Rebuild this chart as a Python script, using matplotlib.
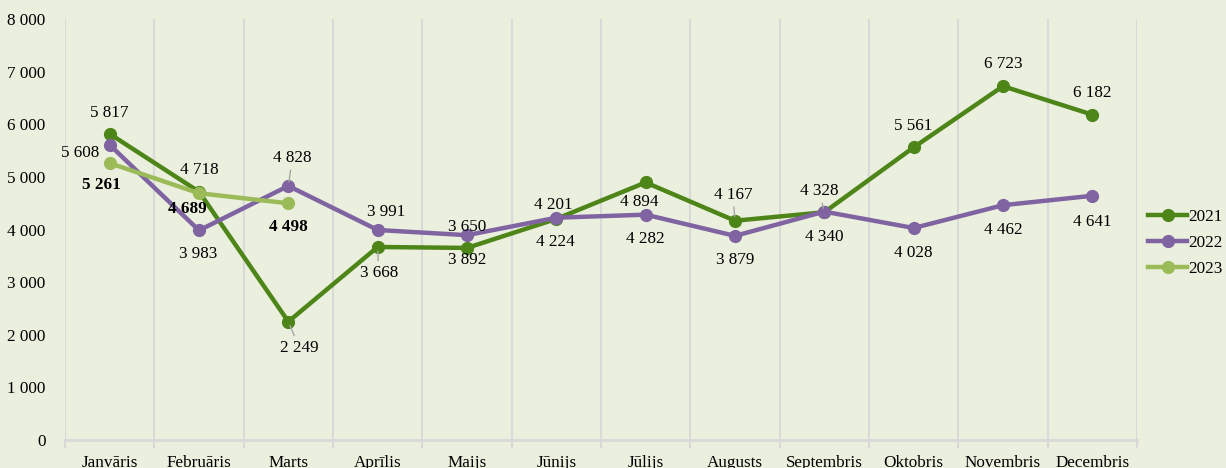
import matplotlib.pyplot as plt
from matplotlib.ticker import FuncFormatter, MultipleLocator

months = ["Janvāris", "Februāris", "Marts", "Aprīlis", "Maijs", "Jūnijs",
          "Jūlijs", "Augusts", "Septembris", "Oktobris", "Novembris", "Decembris"]
y2021 = [5817, 4718, 2249, 3668, 3650, 4201, 4894, 4167, 4328, 5561, 6723, 6182]
y2022 = [5608, 3983, 4828, 3991, 3892, 4224, 4282, 3879, 4340, 4028, 4462, 4641]
y2023 = [5261, 4689, 4498]

# label offsets in pixels (dx, dy) and whether a leader line is drawn
off2021 = [(0, 21), (0, 22), (11, -26), (1, -26), (0, 21), (-3, 14),
           (-6, -20), (-2, 26), (-5, 21), (0, 21), (0, 22), (0, 22)]
lead2021 = [False, False, True, True, False, False, False, True, True, False, False, False]
off2022 = [(-30, -8), (-1, -24), (4, 28), (9, 18), (0, -25), (-1, -24),
           (0, -24), (0, -24), (0, -25), (0, -25), (0, -25), (0, -26)]
lead2022 = [False, False, True, False, False, False, False, False, False, False, False, False]
off2023 = [(-8, -22), (-12, -16), (0, -24)]

bg = "#ebefde"
c21, c22, c23 = "#4e8519", "#8064a2", "#9bbb59"
fs = 12.3

plt.rcParams["font.family"] = ["Liberation Serif", "DejaVu Serif"]
plt.rcParams["font.size"] = fs

fig = plt.figure(figsize=(12.26, 4.68), dpi=100, facecolor=bg)
ax = fig.add_axes([65 / 1226, 28 / 468, 1072 / 1226, 421 / 468], facecolor=bg)

x = list(range(len(months)))
ax.plot(x, y2021, color=c21, lw=3.2, marker="o", ms=8.5, label="2021", zorder=3)
ax.plot(x, y2022, color=c22, lw=3.2, marker="o", ms=8.5, label="2022", zorder=3)
ax.plot(x[:len(y2023)], y2023, color=c23, lw=3.2, marker="o", ms=8.5, label="2023", zorder=4)


def put_labels(vals, offs, leads=None, bold=False):
    for i, v in enumerate(vals):
        txt = f"{v:,}".replace(",", " ")
        ap = None
        if leads is not None and leads[i]:
            ap = dict(arrowstyle="-", color="#a6a6a6", lw=1, shrinkA=1, shrinkB=3)
        ax.annotate(txt, (i, v), xytext=offs[i], textcoords="offset pixels",
                    ha="center", va="center", fontsize=fs,
                    fontweight="bold" if bold else "normal", color="black",
                    arrowprops=ap, zorder=5)


put_labels(y2021, off2021, lead2021)
put_labels(y2022, off2022, lead2022)
put_labels(y2023, off2023, bold=True)

ax.set_xlim(-0.5, len(months) - 0.5)
ax.set_ylim(0, 8000)
ax.yaxis.set_major_locator(MultipleLocator(1000))
ax.yaxis.set_major_formatter(FuncFormatter(lambda v, p: f"{int(v):,}".replace(",", " ")))
ax.set_xticks(x)
ax.set_xticklabels(months)
ax.set_xticks([i - 0.5 for i in range(len(months) + 1)], minor=True)
ax.tick_params(axis="x", which="major", length=0, pad=11)
ax.tick_params(axis="x", which="minor", length=6, color="#d9d9d9", width=1.5)
ax.tick_params(axis="y", length=0, pad=14)
ax.grid(axis="x", which="minor", color="#d9d9d9", lw=1.5)
for s in ["top", "right", "left"]:
    ax.spines[s].set_visible(False)
ax.spines["bottom"].set_color("#d9d9d9")
ax.spines["bottom"].set_linewidth(2)

ax.legend(loc="center left", bbox_to_anchor=(1148 / 1226, 1 - 243 / 468),
          bbox_transform=fig.transFigure, frameon=False, handlelength=2.3,
          handletextpad=0.05, labelspacing=0.6, borderpad=0, borderaxespad=0)

fig.savefig("out.png", dpi=100, facecolor=bg)
